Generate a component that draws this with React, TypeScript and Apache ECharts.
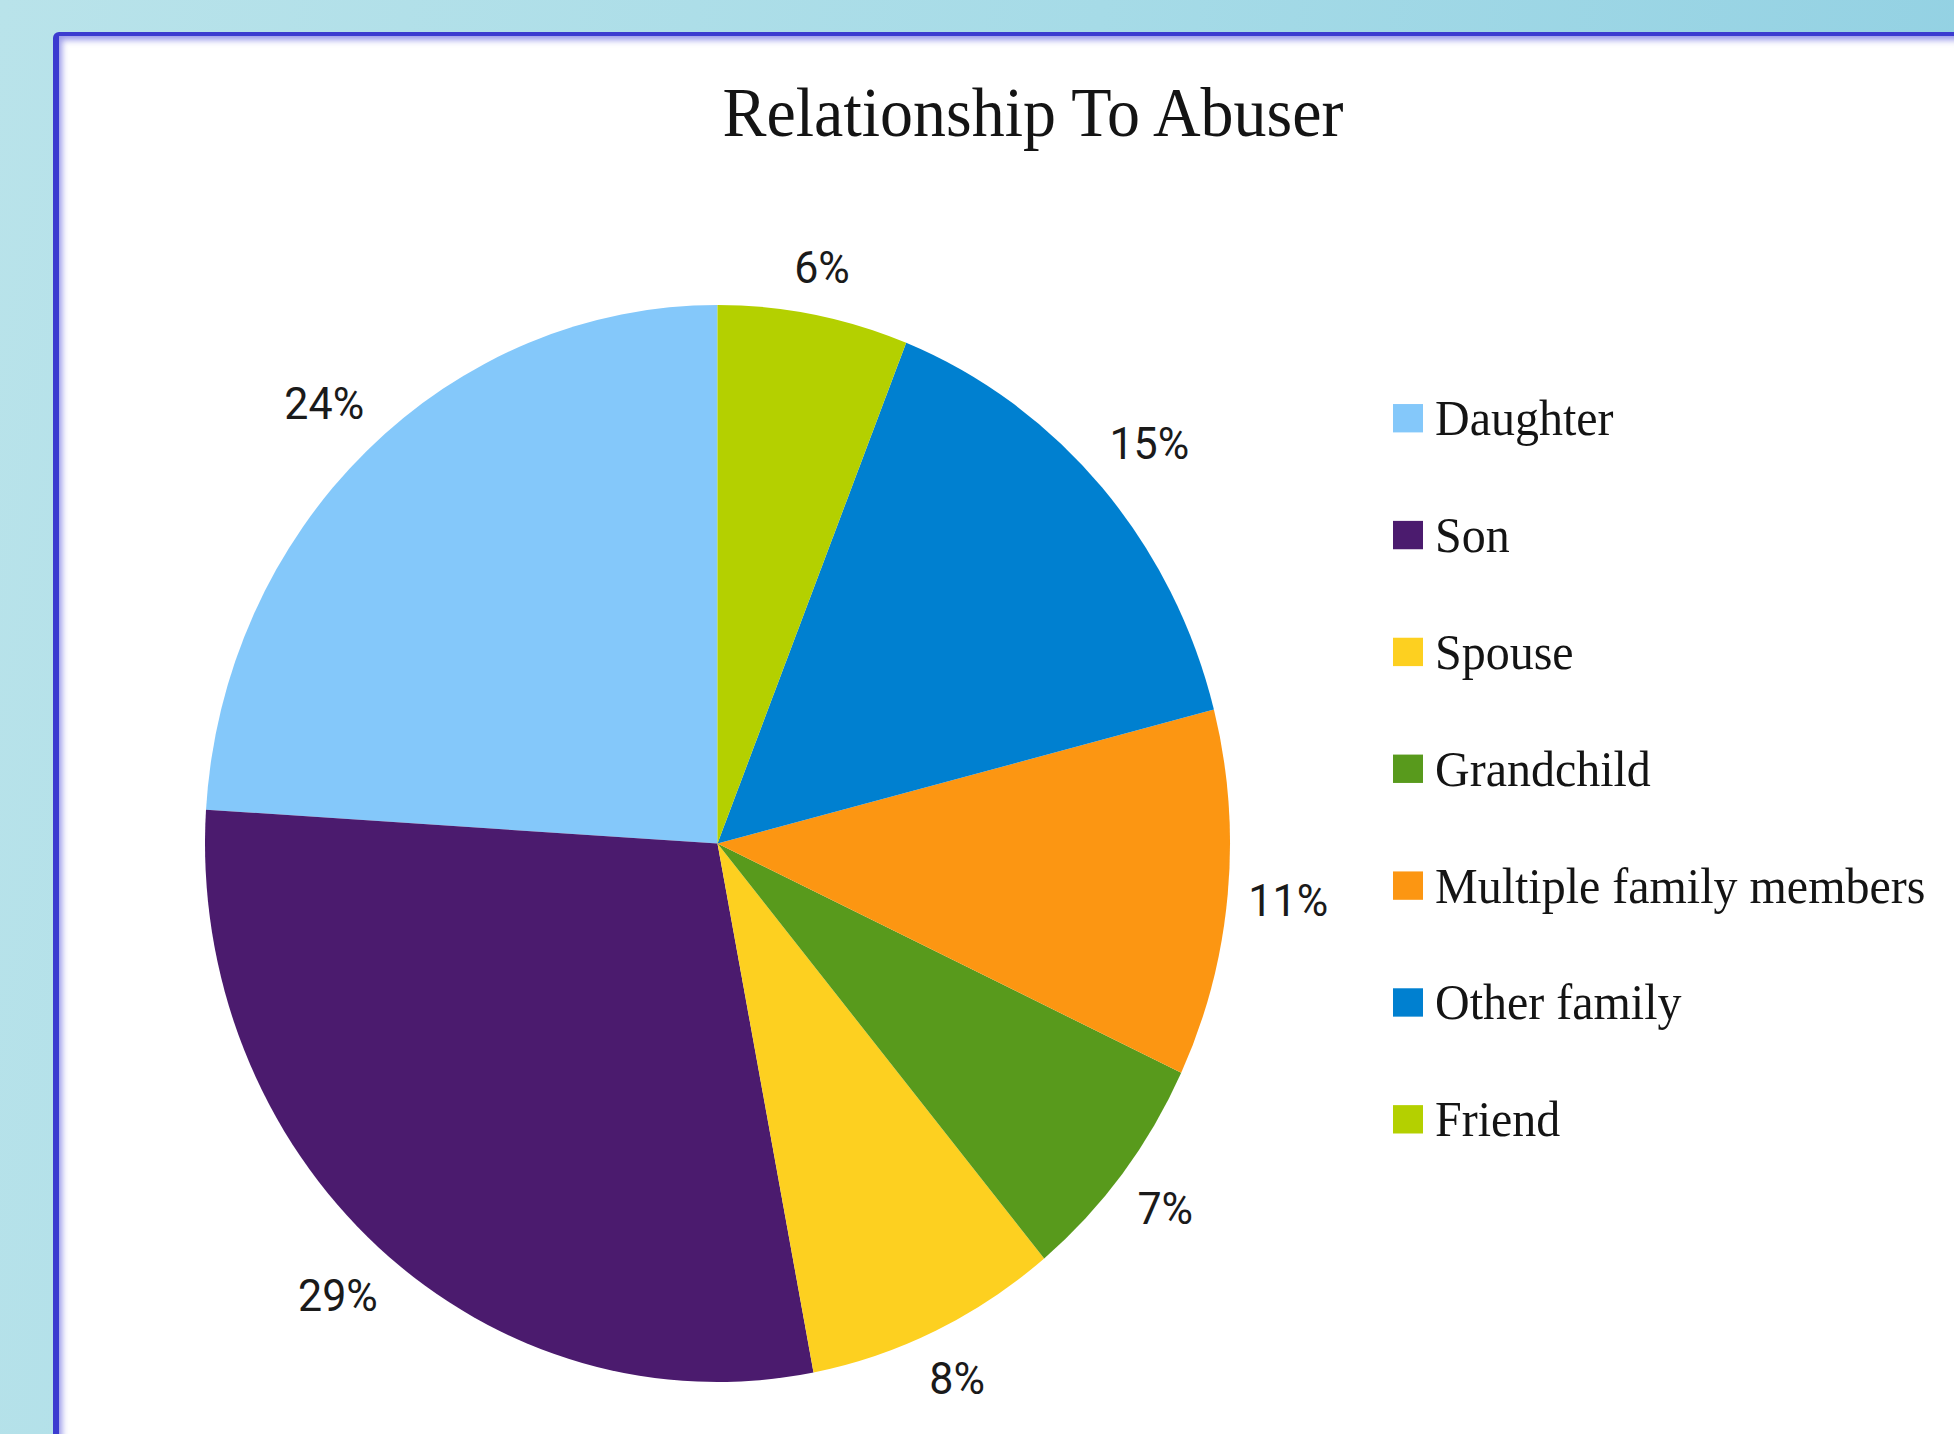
import React, { useEffect, useRef } from "react";
import * as echarts from "echarts";

const TITLE = "Relationship To Abuser";
const categories = [
  "Daughter",
  "Son",
  "Spouse",
  "Grandchild",
  "Multiple family members",
  "Other family",
  "Friend",
];
const percentages = [24, 29, 8, 7, 11, 15, 6];
const colors = ["#84c8fa", "#4b1b6e", "#fdd020", "#589a1c", "#fc9612", "#0080d0", "#b4d000"];

// the reference picture is slightly stretched vertically
const STRETCH = 1.0508;
const PIE_CENTER = [717.5, 802.7];
const PIE_RADIUS = 512.5;
const LABEL_GAP = 19;

export default function App() {
  const ref = useRef<HTMLDivElement>(null);

  useEffect(() => {
    document.body.style.margin = "0";
    if (!ref.current) return;
    const chart = echarts.init(ref.current, undefined, { renderer: "svg" });
    const data = categories.map((name, i) => ({
      name,
      value: percentages[i],
      itemStyle: { color: colors[i] },
    }));
    chart.setOption({
      animation: false,
      title: {
        text: TITLE,
        left: 1033,
        top: 74.5,
        textAlign: "center",
        padding: 0,
        textStyle: {
          fontFamily: "Liberation Serif",
          fontSize: 66,
          fontWeight: "normal",
          color: "#141414",
        },
      },
      legend: {
        orient: "vertical",
        left: 1393,
        top: 374,
        padding: 0,
        itemWidth: 30,
        itemHeight: 27,
        itemGap: 63.2,
        icon: "rect",
        data: categories,
        textStyle: {
          fontFamily: "Liberation Serif",
          fontSize: 48,
          lineHeight: 48,
          color: "#141414",
          padding: [0, 0, 0, 7],
        },
      },
      series: [
        {
          type: "pie",
          name: "Relationship",
          center: PIE_CENTER,
          radius: PIE_RADIUS,
          startAngle: 90,
          clockwise: false,
          label: { show: false },
          labelLine: { show: false },
          itemStyle: { borderWidth: 0 },
          emphasis: { disabled: true },
          data,
        },
        {
          type: "pie",
          name: "Labels",
          center: PIE_CENTER,
          radius: [PIE_RADIUS, PIE_RADIUS + 120],
          startAngle: 90,
          clockwise: false,
          silent: true,
          itemStyle: { color: "rgba(0,0,0,0)", borderWidth: 0 },
          label: {
            show: true,
            position: "inside",
            formatter: "{c}%",
            fontFamily: "Roboto",
            fontSize: 43,
            color: "#1a1a1a",
          },
          labelLine: { show: false },
          // Excel-like "outside end": the label box sits a fixed gap outside the edge
          labelLayout: (params: any) => {
            const r = params.labelRect;
            const cx = r.x + r.width / 2;
            const cy = r.y + r.height / 2;
            const vx = cx - PIE_CENTER[0];
            const vy = cy - PIE_CENTER[1];
            const len = Math.sqrt(vx * vx + vy * vy) || 1;
            const ux = vx / len;
            const uy = vy / len;
            const d =
              PIE_RADIUS + LABEL_GAP + (r.width / 2) * Math.abs(ux) + (r.height / 2) * Math.abs(uy);
            return { x: PIE_CENTER[0] + ux * d, y: PIE_CENTER[1] + uy * d };
          },
          emphasis: { disabled: true },
          data: categories.map((name, i) => ({ name, value: percentages[i] })),
        },
      ],
    });
    return () => chart.dispose();
  }, []);

  return (
    <div
      style={{
        position: "absolute",
        left: 0,
        top: 0,
        width: 1954,
        height: 1434,
        overflow: "hidden",
        background: "linear-gradient(100deg, #b9e3ea 0%, #a6dbe7 50%, #8fcfe2 100%)",
      }}
    >
      <div
        style={{
          position: "absolute",
          left: 53,
          top: 32,
          width: 1954,
          height: 1500,
          background: "#ffffff",
          borderLeft: "6px solid #3b3bd0",
          borderTop: "4px solid #3b3bd0",
          borderTopLeftRadius: 6,
          boxShadow: "inset 4px 5px 6px -1px rgba(70,70,215,0.55)",
        }}
      />
      <div
        ref={ref}
        style={{
          position: "absolute",
          left: 0,
          top: 0,
          width: 1954,
          height: 1434,
          transform: `scaleY(${STRETCH})`,
          transformOrigin: "0 0",
        }}
      />
    </div>
  );
}
